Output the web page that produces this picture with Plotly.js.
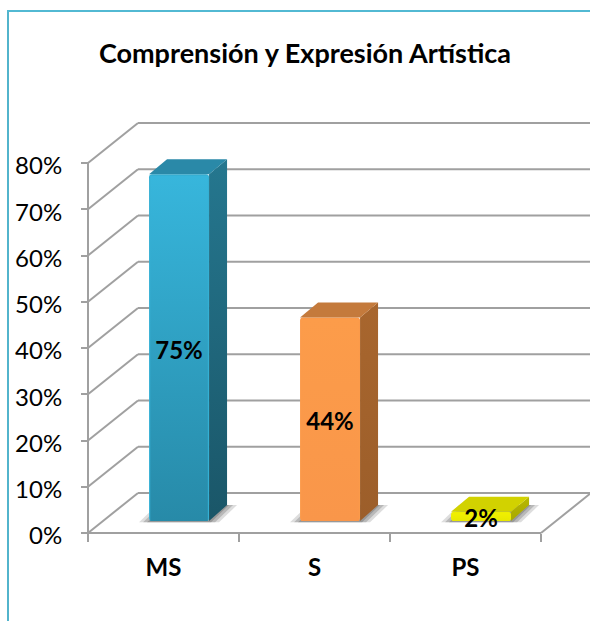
<!DOCTYPE html>
<html>
<head>
<meta charset="utf-8">
<script src="https://cdn.plot.ly/plotly-3.0.1.min.js"></script>
<style>html,body{margin:0;padding:0;background:#fff}#c{width:590px;height:621px}</style>
</head>
<body>
<div id="c"></div>
<script>
// ---- data ----
const categories = ['MS', 'S', 'PS'];
const values = [75, 44, 2];
const valueLabels = ['75%', '44%', '2%'];
const yTickVals = [0, 10, 20, 30, 40, 50, 60, 70, 80];
const yTickText = ['0%', '10%', '20%', '30%', '40%', '50%', '60%', '70%', '80%'];
const frontColors = ['#35b0d4', '#fb9a4a', '#eeee00'];
const frontTop = ['#37b6dc', '#fc9c4a', '#f0f000'];
const frontBottom = ['#278aa8', '#f9964a', '#e8e800'];
const sideTop = ['#25778f', '#a8662e', '#b8b800'];
const sideBottom = ['#1a5668', '#9c5e2a', '#a8a800'];
const topColors = ['#2a89a8', '#c47a3c', '#d2d200'];

// ---- scale of the fake 3D scene (pixels per axis unit, page size) ----
const W = 590, H = 621, X0 = 88, Y0 = 533, PXC = 151, PXV = 4.625;
const cx = p => (p - X0) / PXC, vy = p => (Y0 - p) / PXV;
const wallDx = 50 / PXC, wallDv = 40 / PXV;      // depth of floor
const barShift = 0.103, barW = 60 / PXC, barBase = 12 / PXV;
const depthDx = 18 / PXC, depthTop = 15 / PXV, depthBottom = 16 / PXV;
const nCat = categories.length;
const GRID = '#a0a0a0';

const barX = categories.map((_, i) => i + 0.5 + barShift);
const traces = [];

// front faces: the bars themselves
traces.push({
  type: 'bar', x: barX, y: values, base: values.map(() => barBase), width: barW,
  marker: {color: frontColors, line: {width: 0}, cornerradius: 3},
  hoverinfo: 'skip', showlegend: false
});

function poly(xs, ys, fill) {
  const t = {type: 'scatter', mode: 'none', x: xs.concat(xs[0]), y: ys.concat(ys[0]),
    fill: 'toself', hoverinfo: 'skip', showlegend: false};
  if (typeof fill === 'string') t.fillcolor = fill;
  else t.fillgradient = {type: 'vertical', colorscale: [[0, fill[1]], [1, fill[0]]]};
  return t;
}
categories.forEach((_, i) => {
  const l = barX[i] - barW / 2, r = barX[i] + barW / 2, b = barBase, t = barBase + values[i];
  // gradient over the front
  traces.push(poly([l + .008, r - .008, r - .008, l + .008], [b, b, t - .4, t - .4], [frontTop[i], frontBottom[i]]));
  // side face
  traces.push(poly([r, r + depthDx, r + depthDx, r], [b, b + depthBottom, t + depthTop, t], [sideTop[i], sideBottom[i]]));
  // top face
  traces.push(poly([l, l + depthDx, r + depthDx, r], [t, t + depthTop, t + depthTop, t], topColors[i]));
});

// value labels
traces.push({
  type: 'scatter', mode: 'text', x: barX,
  y: values.map(v => barBase + v / 2 - 1.1), text: valueLabels, textposition: 'middle center',
  textfont: {family: 'Lato, sans-serif', size: 24, color: '#000', weight: 700},
  hoverinfo: 'skip', showlegend: false
});

// walls, gridlines and floor below the bars
const shapes = [];
const line = (x0, y0, x1, y1, w) => ({type: 'line', xref: 'x', yref: 'y', layer: 'below', x0, y0, x1, y1,
  line: {color: GRID, width: w || 2}});
yTickVals.forEach(v => {
  shapes.push(line(0, v, wallDx, v + wallDv));
  shapes.push(line(wallDx, v + wallDv, nCat + wallDx, v + wallDv));
});
shapes.push(line(0, 0, 0, yTickVals[yTickVals.length - 1]));
shapes.push(line(0, 0, nCat, 0));
shapes.push(line(nCat, 0, nCat + wallDx, wallDv));

// soft shadows on the floor
categories.forEach((_, i) => {
  const l = barX[i] - barW / 2, r = barX[i] + barW / 2;
  [[10, .22], [6, .3], [2, .38]].forEach(([g, op]) => {
    const xs = [l - g / PXC, l + depthDx - g / PXC, r + depthDx + g / PXC, r + g / PXC];
    const b = barBase - 0.25, tp = barBase + depthBottom;
    shapes.push({type: 'path', xref: 'x', yref: 'y', layer: 'below',
      path: `M${xs[0]},${b} L${xs[1]},${tp} L${xs[2]},${tp} L${xs[3]},${b} Z`,
      fillcolor: `rgba(100,100,100,${op})`, line: {width: 0}});
  });
});

// chart frame
shapes.push({type: 'line', xref: 'paper', yref: 'paper', layer: 'below',
  x0: 8 / W, x1: 8 / W, y0: 0, y1: 1 - 10.5 / H, line: {color: '#52b4cc', width: 2}});
shapes.push({type: 'line', xref: 'paper', yref: 'paper', layer: 'below',
  x0: 7 / W, x1: 1, y0: 1 - 11 / H, y1: 1 - 11 / H, line: {color: '#52b9d3', width: 2}});

const layout = {
  width: W, height: H, margin: {l: 0, r: 0, t: 0, b: 0}, showlegend: false,
  paper_bgcolor: '#fff', plot_bgcolor: 'rgba(0,0,0,0)', barmode: 'overlay',
  title: {text: '<b>Comprensión y Expresión Artística</b>', x: 305 / W, xanchor: 'center',
    y: 1 - 54 / H, yanchor: 'middle', font: {family: 'Lato, sans-serif', size: 27, color: '#000'}},
  xaxis: {
    range: [cx(0), cx(W)], domain: [0, 1], anchor: 'free', position: (H - Y0) / H,
    tickmode: 'array', tickvals: categories.map((_, i) => i + 0.5), ticktext: categories,
    ticks: '', showgrid: false, zeroline: false, showline: false, ticklabelstandoff: 18,
    tickfont: {family: 'Lato, sans-serif', size: 24, color: '#000', weight: 700},
    minor: {tickmode: 'array', tickvals: categories.map((_, i) => i).concat(nCat), ticks: 'outside',
      ticklen: 8, tickwidth: 2, tickcolor: GRID, showgrid: false},
    fixedrange: true
  },
  yaxis: {
    range: [vy(H), vy(0)], domain: [0, 1], anchor: 'free', position: X0 / W,
    tickmode: 'array', tickvals: yTickVals, ticktext: yTickText,
    ticks: 'outside', ticklen: 7, tickwidth: 2, tickcolor: GRID,
    showgrid: false, zeroline: false, showline: false, ticklabelstandoff: 14, ticklabelshift: 3,
    tickfont: {family: 'Lato, sans-serif', size: 24, color: '#000'},
    fixedrange: true
  },
  shapes
};
Plotly.newPlot('c', traces, layout, {displayModeBar: false, staticPlot: true});
</script>
</body>
</html>
